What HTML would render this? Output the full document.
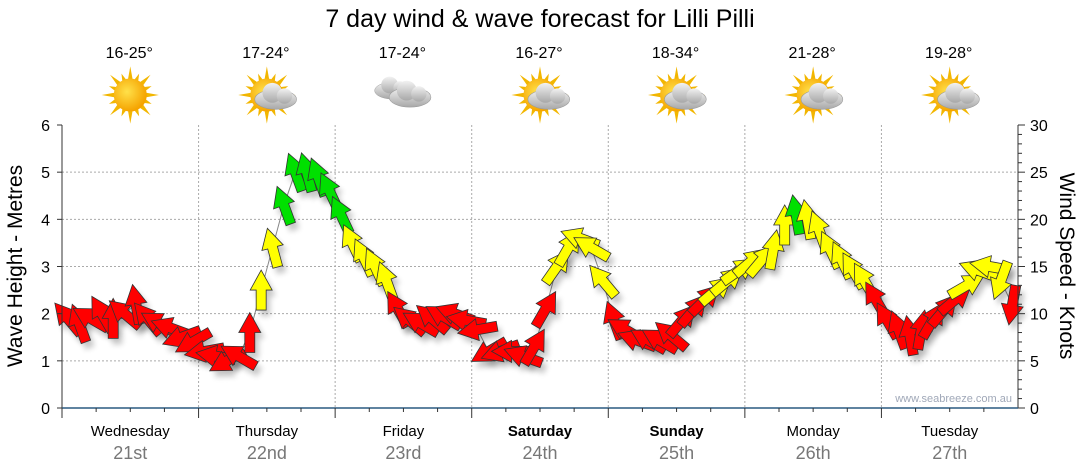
<!DOCTYPE html>
<html><head><meta charset="utf-8"><style>
body{margin:0;background:#fff;}
svg{display:block;font-family:"Liberation Sans",sans-serif;}
</style></head><body>
<svg id="chart" width="1080" height="475" viewBox="0 0 1080 475">
<defs>
<filter id="sh" x="-50%" y="-50%" width="200%" height="200%"><feGaussianBlur stdDeviation="3"/></filter>
<radialGradient id="sun" cx="0.4" cy="0.4" r="0.6"><stop offset="0" stop-color="#ffe14a"/><stop offset="1" stop-color="#f5a300"/></radialGradient>
<linearGradient id="cl" x1="0" y1="0" x2="0" y2="1"><stop offset="0" stop-color="#f2f2f2"/><stop offset="1" stop-color="#a8a8a8"/></linearGradient>
</defs>
<text x="540" y="27" text-anchor="middle" font-size="25" fill="#000">7 day wind &amp; wave forecast for Lilli Pilli</text>
<g id="grid"></g>
<g id="wx"></g>
<g id="marks"></g>
<g id="axes"></g>
<text x="1012" y="402" text-anchor="end" font-size="11" fill="#a0a8b8">www.seabreeze.com.au</text>
<text transform="translate(22,266) rotate(-90)" text-anchor="middle" font-size="21">Wave Height - Metres</text>
<text transform="translate(1060,266) rotate(90)" text-anchor="middle" font-size="21">Wind Speed - Knots</text>
</svg>
<script>
const days=["Wednesday","Thursday","Friday","Saturday","Sunday","Monday","Tuesday"];
const dates=["21st","22nd","23rd","24th","25th","26th","27th"];
const boldDays=[false,false,false,true,true,false,false];
const temps=["16-25°","17-24°","17-24°","16-27°","18-34°","21-28°","19-28°"];
const icons=["sun","part","cloud","part","part","part","part"];
const waveTicks=[0,1,2,3,4,5,6];
const windTicks=[0,5,10,15,20,25,30];
// wind speed (knots) every 2 hours, 12 per day
const windSpeed=[9.5,9,9.5,10,9.5,10,11,9.5,9,8.5,7.5,7,
6,5.5,5,5.5,8,12.5,17,21.5,25,25,24.5,23,
20.5,17.5,16,15,13.5,10.5,9.3,9,9.5,9.7,10,9.3,
8.3,6,6,6,5.5,6.5,10.5,15,17,18,17,13.5,
9.3,8.3,7.2,7.2,7.2,7.7,9.3,10.4,11.5,12.5,13.5,14.6,
15.5,15.7,16.8,19.4,20.5,20,18.9,16.8,15.7,14.6,13.5,11.5,
9.3,8.3,7.7,8.3,9.3,10.4,11.5,13,14.6,15,13.5,10.9];
// arrow direction in degrees (0 = pointing up)
const windDir=[-40,-20,-60,-30,0,-50,-10,-40,-60,-70,-110,-120,
-100,-80,-120,-60,0,0,-15,-20,-20,-15,-20,-25,
-25,-25,-25,-25,-20,-30,-50,-60,-50,-60,-70,-80,
-100,-120,-110,-90,-70,30,30,35,30,-70,-60,-40,
-20,-60,-70,-60,-60,-50,40,40,45,50,50,55,
50,40,10,0,-10,-10,-20,-25,-25,-30,-30,-30,
-30,-20,-10,10,30,40,50,60,-70,-80,-160,-170];
const X0=62,X1=1018,YT=125,YB=408;
const dayW=(X1-X0)/7;
const xDay=d=>X0+d*dayW;
const xPt=i=>X0+(i+0.5)*dayW/12;
const yWave=v=>YB-(v/6)*(YB-YT);
const yWind=v=>YB-(v/30)*(YB-YT);
const NS="http://www.w3.org/2000/svg";
function mk(tag,attrs,parent){const e=document.createElementNS(NS,tag);for(const k in attrs)e.setAttribute(k,attrs[k]);parent.appendChild(e);return e;}
const grid=document.getElementById('grid'),axes=document.getElementById('axes'),marks=document.getElementById('marks'),wx=document.getElementById('wx');
waveTicks.forEach(v=>{
 const y=yWave(v);
 if(v>0&&v<6){const l=mk('line',{x1:X0,x2:X1,y1:y,y2:y,stroke:'#aaa','stroke-dasharray':'2,2'},grid);
 
 }
 const t=mk('text',{x:X0-12,y:y+6,'text-anchor':'end','font-size':16},axes);t.textContent=v;
 
 
 mk('line',{x1:X0-5,x2:X0,y1:y,y2:y,stroke:'#333'},axes);
});
for(let k=0;k<=30;k++){const y=yWind(k);mk('line',{x1:X1,x2:X1+(k%5?4:7),y1:y,y2:y,stroke:'#333'},axes);}
windTicks.forEach(v=>{const t=mk('text',{x:X1+12,y:yWind(v)+6,'font-size':16},axes);t.textContent=v;
 
 });
mk('line',{x1:X0,x2:X0,y1:YT,y2:YB,stroke:'#333'},axes);
mk('line',{x1:X1,x2:X1,y1:YT,y2:YB,stroke:'#333'},axes);
mk('line',{x1:X0,x2:X1,y1:YB,y2:YB,stroke:'#2a5a80','stroke-width':1.5},axes);
for(let d=0;d<7;d++){
 if(d>0){const l=mk('line',{x1:xDay(d),x2:xDay(d),y1:YT,y2:YB,stroke:'#aaa','stroke-dasharray':'2,2'},grid);
 
 }
 for(let q=0;q<4;q++){const x=xDay(d)+q*dayW/4;mk('line',{x1:x,x2:x,y1:YB,y2:YB+(q?4:10),stroke:'#333'},axes);}
 const cx=xDay(d)+dayW/2;
 const t=mk('text',{x:cx,y:436,'text-anchor':'middle','font-size':15,'font-weight':boldDays[d]?'bold':'normal'},axes);t.textContent=days[d];
 
 
 const t2=mk('text',{x:cx,y:459,'text-anchor':'middle','font-size':18,fill:'#777'},axes);t2.textContent=dates[d];
 
 
 const tt=mk('text',{x:cx-1,y:58,'text-anchor':'middle','font-size':16},wx);tt.textContent=temps[d];
 
 
 const g=mk('g',{transform:`translate(${cx},95) scale(1.1)`},wx);
 
 
 if(icons[d]!=='cloud'){
  for(let r=0;r<16;r++){const a=r*22.5,L=r%2?21:26;mk('polygon',{points:`-2.5,-12 0,-${L} 2.5,-12`,fill:'#f2b600',transform:`rotate(${a})`},g);}
  mk('circle',{r:15,fill:'url(#sun)'},g);
 }
 if(icons[d]==='part'){const c=mk('g',{transform:'translate(8,4)'},g);
  mk('ellipse',{cx:0,cy:0,rx:19,ry:9,fill:'url(#cl)',stroke:'#999','stroke-width':0.5},c);
  mk('circle',{cx:-3,cy:-6,r:9,fill:'url(#cl)'},c);mk('circle',{cx:8,cy:-3,r:7,fill:'url(#cl)'},c);}
 if(icons[d]==='cloud'){
  [[-10,-4,0.85],[6,2,1]].forEach(([ox,oy,s])=>{const c=mk('g',{transform:`translate(${ox},${oy}) scale(${s})`},g);
  mk('ellipse',{cx:0,cy:0,rx:19,ry:9,fill:'url(#cl)',stroke:'#999','stroke-width':0.5},c);
  mk('circle',{cx:-3,cy:-6,r:9,fill:'url(#cl)'},c);mk('circle',{cx:8,cy:-3,r:7,fill:'url(#cl)'},c);});
 }
}
// trend line
const pl=mk('polyline',{points:windSpeed.map((v,i)=>xPt(i)+','+yWind(v)).join(' '),fill:'none',stroke:'#888','stroke-width':1},marks);


const arrowPts="0,-20 11,0 5,0 5,20 -5,20 -5,0 -11,0";
windSpeed.forEach((v,i)=>{
 const x=xPt(i),y=yWind(v);
 mk('polygon',{points:arrowPts,fill:'#000',opacity:0.22,filter:'url(#sh)',transform:`translate(${x+4},${y+6}) rotate(${windDir[i]})`},marks);
});
windSpeed.forEach((v,i)=>{
 const x=xPt(i),y=yWind(v),col=v>20?'#00e000':(v>12?'#ffff00':'#ff0000');
 const a=mk('polygon',{points:arrowPts,fill:col,stroke:'#333','stroke-width':0.8,transform:`translate(${x},${y}) rotate(${windDir[i]})`},marks);
 
 
});
</script>
</body></html>
